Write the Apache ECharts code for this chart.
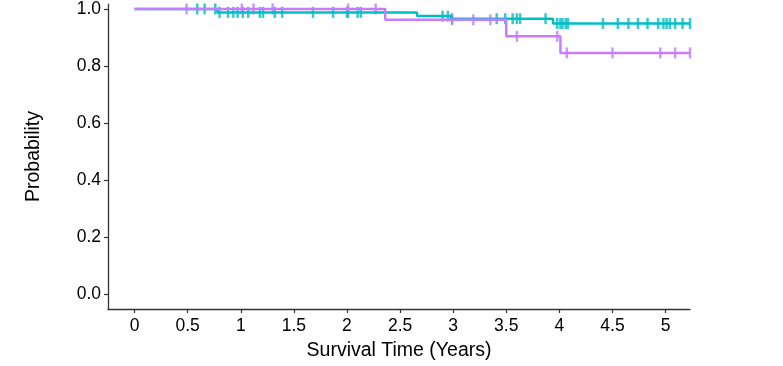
<!DOCTYPE html>
<html>
<head>
<meta charset="utf-8">
<script src="https://cdn.jsdelivr.net/npm/echarts@6/dist/echarts.min.js"></script>
<style>
html,body{margin:0;padding:0;background:#fff;}
#chart{width:783px;height:366px;}
</style>
</head>
<body>
<div id="chart"></div>
<script>
// Kaplan-Meier step data (time in years, survival probability)
const tealTimes = [0, 0.78, 2.66, 2.98, 3.94, 5.23];
const tealSurv  = [1.0, 0.988, 0.975, 0.966, 0.949, 0.949];
const tealCensor = [0.59, 0.66, 0.76, 0.80, 0.88, 0.93, 0.97, 1.02, 1.07, 1.18, 1.21, 1.32, 1.39,
  1.68, 1.87, 2.00, 2.01, 2.10, 2.13, 2.90, 2.95, 2.99, 3.41, 3.49, 3.56, 3.60, 3.63, 3.87,
  3.98, 4.01, 4.03, 4.06, 4.08, 4.41, 4.55, 4.65, 4.74, 4.83, 4.93, 4.98, 5.01, 5.04, 5.09, 5.16, 5.23];

const purpleTimes = [0, 2.36, 3.50, 4.01, 5.23];
const purpleSurv  = [1.0, 0.962, 0.904, 0.846, 0.846];
const purpleCensor = [0.49, 1.01, 1.12, 1.30, 2.01, 2.27, 2.99, 3.19, 3.35, 3.60, 3.98, 4.07, 4.50, 4.95, 5.09, 5.23];

const xTicks = [0, 0.5, 1, 1.5, 2, 2.5, 3, 3.5, 4, 4.5, 5];
const yTicks = [0, 0.2, 0.4, 0.6, 0.8, 1.0];

const tealColor = '#00BFC4';
const purpleColor = '#C77CFF';

function survAt(times, surv, t) {
  let s = surv[0];
  for (let i = 0; i < times.length; i++) { if (times[i] <= t) s = surv[i]; }
  return s;
}
function stepData(times, surv) { return times.map((t, i) => [t, surv[i]]); }
function censorData(times, surv, cens) { return cens.map(t => [t, survAt(times, surv, t)]); }

const chart = echarts.init(document.getElementById('chart'), null, {renderer: 'canvas'});
const font = "'Liberation Sans', Arial, sans-serif";
chart.setOption({
  animation: false,
  backgroundColor: '#ffffff',
  grid: {left: 108, right: 93, top: 0, bottom: 54, containLabel: false},
  xAxis: {
    type: 'value', min: -0.25, max: 5.23,
    name: 'Survival Time (Years)', nameLocation: 'middle', nameGap: 32,
    nameTextStyle: {color: '#000', fontSize: 19.5, fontFamily: font},
    axisLine: {show: true, onZero: false, lineStyle: {color: '#333', width: 1.3}},
    axisTick: {show: true, length: 4, customValues: xTicks, lineStyle: {color: '#333', width: 1.2}},
    axisLabel: {customValues: xTicks, color: '#000', fontSize: 17.5, fontFamily: font, margin: 8},
    splitLine: {show: false}
  },
  yAxis: {
    type: 'value', min: -0.0514, max: 1.0171,
    name: 'Probability', nameLocation: 'middle', nameGap: 64, nameRotate: 90,
    nameTextStyle: {color: '#000', fontSize: 19.5, fontFamily: font},
    axisLine: {show: true, onZero: false, lineStyle: {color: '#333', width: 1.3}},
    axisTick: {show: true, length: 4, customValues: yTicks, lineStyle: {color: '#333', width: 1.2}},
    axisLabel: {customValues: yTicks, color: '#000', fontSize: 17.5, fontFamily: font, margin: 7,
      formatter: v => v.toFixed(1)},
    splitLine: {show: false}
  },
  series: [
    {type: 'line', step: 'end', data: stepData(tealTimes, tealSurv), showSymbol: false,
     lineStyle: {color: tealColor, width: 2.5}, itemStyle: {color: tealColor}},
    {type: 'scatter', data: censorData(tealTimes, tealSurv, tealCensor), symbol: 'rect', symbolSize: [2.5, 11],
     itemStyle: {color: tealColor}},
    {type: 'line', step: 'end', data: stepData(purpleTimes, purpleSurv), showSymbol: false,
     lineStyle: {color: purpleColor, width: 2.5}, itemStyle: {color: purpleColor}},
    {type: 'scatter', data: censorData(purpleTimes, purpleSurv, purpleCensor), symbol: 'rect', symbolSize: [2.5, 11],
     itemStyle: {color: purpleColor}}
  ]
});
</script>
</body>
</html>
